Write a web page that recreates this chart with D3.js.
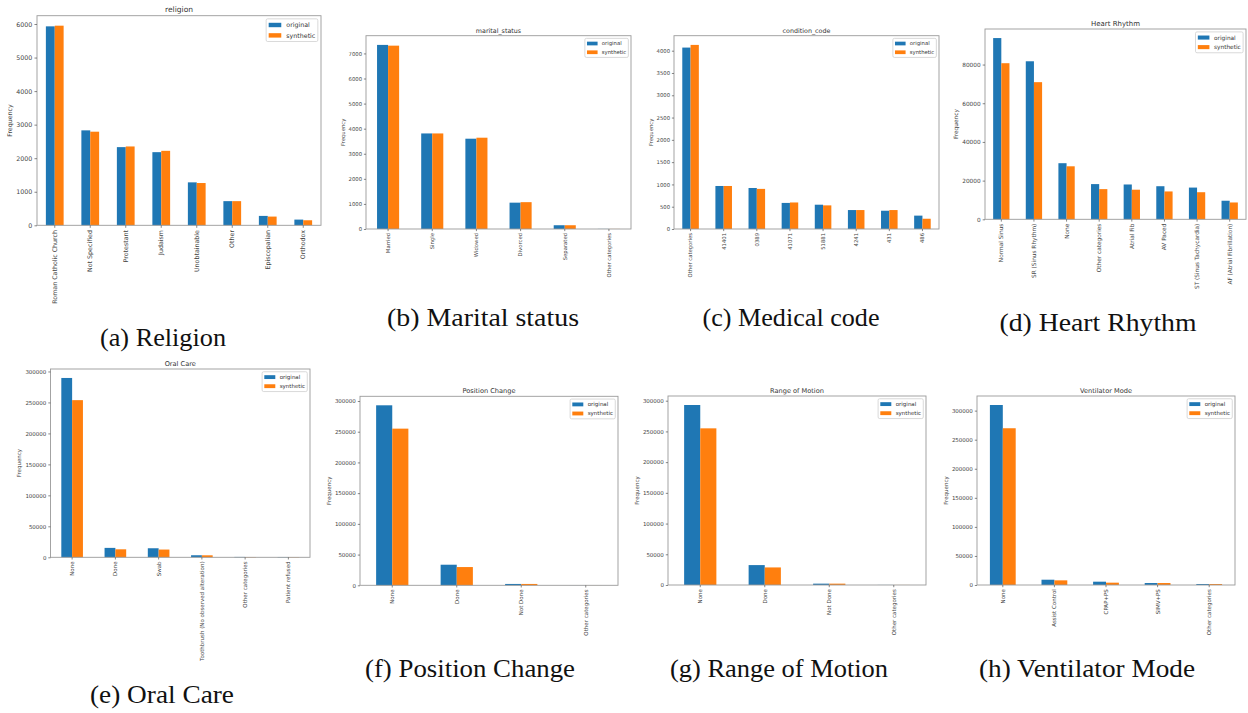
<!DOCTYPE html>
<html>
<head>
<meta charset="utf-8">
<script src="https://cdn.jsdelivr.net/npm/d3@7"></script>
<style>
  html, body { margin: 0; padding: 0; background: #fff; }
  svg { display: block; }
</style>
</head>
<body>
<svg id="fig" width="1248" height="713"></svg>
<script>
// Two series compared in every panel
const seriesNames = ["original", "synthetic"];
const seriesColors = ["#1f77b4", "#ff7f0e"];

// (a) religion
const religionCategories = ["Roman Catholic Church", "Not Specified", "Protestant", "Judaism", "Unobtainable", "Other", "Episcopalian", "Orthodox"];
const religionOriginal  = [5930, 2830, 2330, 2180, 1280, 720, 280, 170];
const religionSynthetic = [5950, 2790, 2350, 2220, 1260, 720, 260, 150];
const religionTicks = [0, 1000, 2000, 3000, 4000, 5000, 6000];

// (b) marital_status
const maritalCategories = ["Married", "Single", "Widowed", "Divorced", "Separated", "Other categories"];
const maritalOriginal  = [7340, 3810, 3600, 1050, 150, 4];
const maritalSynthetic = [7310, 3810, 3640, 1070, 150, 3];
const maritalTicks = [0, 1000, 2000, 3000, 4000, 5000, 6000, 7000];

// (c) condition_code
const conditionCategories = ["Other categories", "41401", "0389", "41071", "51881", "4241", "431", "486"];
const conditionOriginal  = [4070, 965, 920, 585, 545, 425, 410, 300];
const conditionSynthetic = [4130, 965, 900, 595, 530, 425, 425, 230];
const conditionTicks = [0, 500, 1000, 1500, 2000, 2500, 3000, 3500, 4000];

// (d) Heart Rhythm
const rhythmCategories = ["Normal Sinus", "SR (Sinus Rhythm)", "None", "Other categories", "Atrial Fib", "AV Paced", "ST (Sinus Tachycardia)", "AF (Atrial Fibrillation)"];
const rhythmOriginal  = [93700, 81700, 29000, 18200, 18000, 17100, 16400, 9600];
const rhythmSynthetic = [80700, 70900, 27400, 15600, 15300, 14400, 14000, 8700];
const rhythmTicks = [0, 20000, 40000, 60000, 80000];

// (e) Oral Care
const oralCategories = ["None", "Done", "Swab", "Toothbrush (No observed alteration)", "Other categories", "Patient refused"];
const oralOriginal  = [289500, 15200, 14600, 3300, 600, 500];
const oralSynthetic = [253700, 12900, 12500, 3200, 500, 450];

// (f) Position Change
const positionCategories = ["None", "Done", "Not Done", "Other categories"];
const positionOriginal  = [293000, 33500, 2200, 100];
const positionSynthetic = [255000, 29700, 2200, 80];

// (g) Range of Motion
const motionCategories = ["None", "Done", "Not Done", "Other categories"];
const motionOriginal  = [293000, 32400, 2200, 100];
const motionSynthetic = [255000, 28600, 2200, 80];

// (h) Ventilator Mode
const ventCategories = ["None", "Assist Control", "CPAP+PS", "SIMV+PS", "Other categories"];
const ventOriginal  = [309700, 9100, 5700, 3400, 1700];
const ventSynthetic = [269700, 8000, 4000, 3400, 1700];

const bigTicks = [0, 50000, 100000, 150000, 200000, 250000, 300000];

// Panel layout: plot rectangle [left, top, right, bottom], base font size,
// caption [centre x, baseline y, width]
const panels = [
  { title: "religion", caption: "(a) Religion", categories: religionCategories, original: religionOriginal, synthetic: religionSynthetic, ticks: religionTicks,
    rect: [37, 15.7, 321, 225.3], font: 6.3, cap: [163, 346, 126] },
  { title: "marital_status", caption: "(b) Marital status", categories: maritalCategories, original: maritalOriginal, synthetic: maritalSynthetic, ticks: maritalTicks,
    rect: [366, 35.7, 631, 229], font: 5.3, cap: [483, 326, 192] },
  { title: "condition_code", caption: "(c) Medical code", categories: conditionCategories, original: conditionOriginal, synthetic: conditionSynthetic, ticks: conditionTicks,
    rect: [674, 35.7, 939, 229], font: 5.3, cap: [791, 326, 177] },
  { title: "Heart Rhythm", caption: "(d) Heart Rhythm", categories: rhythmCategories, original: rhythmOriginal, synthetic: rhythmSynthetic, ticks: rhythmTicks,
    rect: [985, 29, 1246, 219.3], font: 5.8, cap: [1098, 331, 197] },
  { title: "Oral Care", caption: "(e) Oral Care", categories: oralCategories, original: oralOriginal, synthetic: oralSynthetic, ticks: bigTicks,
    rect: [50.5, 369, 310, 557.3], font: 5.5, cap: [162, 703, 144] },
  { title: "Position Change", caption: "(f) Position Change", categories: positionCategories, original: positionOriginal, synthetic: positionSynthetic, ticks: bigTicks,
    rect: [360, 396.3, 618, 585.3], font: 5.5, cap: [470, 677, 210] },
  { title: "Range of Motion", caption: "(g) Range of Motion", categories: motionCategories, original: motionOriginal, synthetic: motionSynthetic, ticks: bigTicks,
    rect: [668, 396, 926, 585], font: 5.5, cap: [779, 677, 218] },
  { title: "Ventilator Mode", caption: "(h) Ventilator Mode", categories: ventCategories, original: ventOriginal, synthetic: ventSynthetic, ticks: bigTicks,
    rect: [977, 396, 1235, 585], font: 5.5, cap: [1087, 677, 216] }
];

const svg = d3.select("#fig");
const sans = "'DejaVu Sans', sans-serif";

function drawPanel(p) {
  const [x0, y0, x1, y1] = p.rect;
  const fs = p.font;
  const g = svg.append("g");

  const x = d3.scaleBand().domain(p.categories).range([x0, x1]).paddingInner(0.5).paddingOuter(0.25);
  const xs = d3.scaleBand().domain(seriesNames).range([0, x.bandwidth()]);
  const yMax = 1.05 * d3.max(p.original.concat(p.synthetic));
  const y = d3.scaleLinear().domain([0, yMax]).range([y1, y0]);

  const rows = p.categories.map((c, i) => ({ cat: c, values: [p.original[i], p.synthetic[i]] }));
  g.append("g").selectAll("g").data(rows).join("g")
    .attr("transform", d => `translate(${x(d.cat)},0)`)
    .selectAll("rect").data(d => d.values.map((v, k) => ({ k, v }))).join("rect")
    .attr("x", d => xs(seriesNames[d.k]))
    .attr("width", xs.bandwidth())
    .attr("y", d => y(d.v))
    .attr("height", d => y(0) - y(d.v))
    .attr("fill", d => seriesColors[d.k]);

  // plot frame
  g.append("rect")
    .attr("x", x0).attr("y", y0).attr("width", x1 - x0).attr("height", y1 - y0)
    .attr("fill", "none").attr("stroke", "#9a9a9a").attr("stroke-width", 0.9);

  const tickLen = fs * 0.4;
  const tickPad = fs * 0.35;

  const yAxis = g.append("g").attr("transform", `translate(${x0},0)`)
    .call(d3.axisLeft(y).tickValues(p.ticks).tickFormat(d3.format("d")).tickSize(tickLen).tickPadding(tickPad));
  yAxis.select(".domain").remove();
  yAxis.attr("font-family", sans).attr("font-size", fs);
  yAxis.selectAll("line").attr("stroke", "#555").attr("stroke-width", 0.7);
  yAxis.selectAll("text").attr("fill", "#444");

  const xAxis = g.append("g").attr("transform", `translate(0,${y1})`)
    .call(d3.axisBottom(x).tickSize(tickLen).tickPadding(tickPad));
  xAxis.select(".domain").remove();
  xAxis.attr("font-family", sans).attr("font-size", fs);
  xAxis.selectAll("line").attr("stroke", "#555").attr("stroke-width", 0.7);
  xAxis.selectAll("text")
    .attr("fill", "#444")
    .attr("transform", "rotate(-90)")
    .attr("text-anchor", "end")
    .attr("x", -(tickLen + tickPad))
    .attr("y", 0)
    .attr("dy", "0.35em");

  // y label, placed left of the widest tick label (bbox is in the axis group's frame)
  const bb = yAxis.node().getBBox();
  const lx = x0 + bb.x - 0.75 * fs;
  g.append("text")
    .attr("transform", `translate(${lx},${(y0 + y1) / 2}) rotate(-90)`)
    .attr("text-anchor", "middle")
    .attr("font-family", sans).attr("font-size", fs).attr("fill", "#444")
    .text("Frequency");

  // title
  g.append("text")
    .attr("x", (x0 + x1) / 2).attr("y", y0 - 0.6 * fs)
    .attr("text-anchor", "middle")
    .attr("font-family", sans).attr("font-size", fs * 1.2).attr("fill", "#333")
    .text(p.title);

  // legend, upper right
  const lg = g.append("g");
  const rowH = 1.15 * fs;
  const labels = lg.selectAll("text").data(seriesNames).join("text")
    .attr("font-family", sans).attr("font-size", fs).attr("fill", "#333")
    .text(d => d);
  const tw = d3.max(labels.nodes(), n => n.getComputedTextLength());
  const boxW = 0.8 * fs + 2 * fs + 0.8 * fs + tw;
  const boxH = 0.8 * fs + 2 * rowH + 0.5 * fs;
  const bx = x1 - 0.5 * fs - boxW;
  const by = y0 + 0.5 * fs;
  lg.insert("rect", "text")
    .attr("x", bx).attr("y", by).attr("width", boxW).attr("height", boxH)
    .attr("rx", 1.5).attr("fill", "#fff").attr("fill-opacity", 0.8)
    .attr("stroke", "#cfcfcf").attr("stroke-width", 0.8);
  const rowY = i => by + 0.4 * fs + i * (rowH + 0.5 * fs) + rowH / 2;
  lg.selectAll("rect.patch").data(seriesNames).join("rect")
    .attr("class", "patch")
    .attr("x", bx + 0.4 * fs).attr("y", (d, i) => rowY(i) - 0.35 * fs)
    .attr("width", 2 * fs).attr("height", 0.7 * fs)
    .attr("fill", (d, i) => seriesColors[i]);
  labels.attr("x", bx + 0.4 * fs + 2.8 * fs).attr("y", (d, i) => rowY(i)).attr("dy", "0.35em");

  // caption under the panel
  const [cx, cy, cw] = p.cap;
  svg.append("text")
    .attr("x", cx).attr("y", cy)
    .attr("text-anchor", "middle")
    .attr("font-family", "'Liberation Serif', serif")
    .attr("font-size", 25)
    .attr("fill", "#111")
    .attr("textLength", cw)
    .attr("lengthAdjust", "spacingAndGlyphs")
    .text(p.caption);
}

panels.forEach(drawPanel);
</script>
</body>
</html>
